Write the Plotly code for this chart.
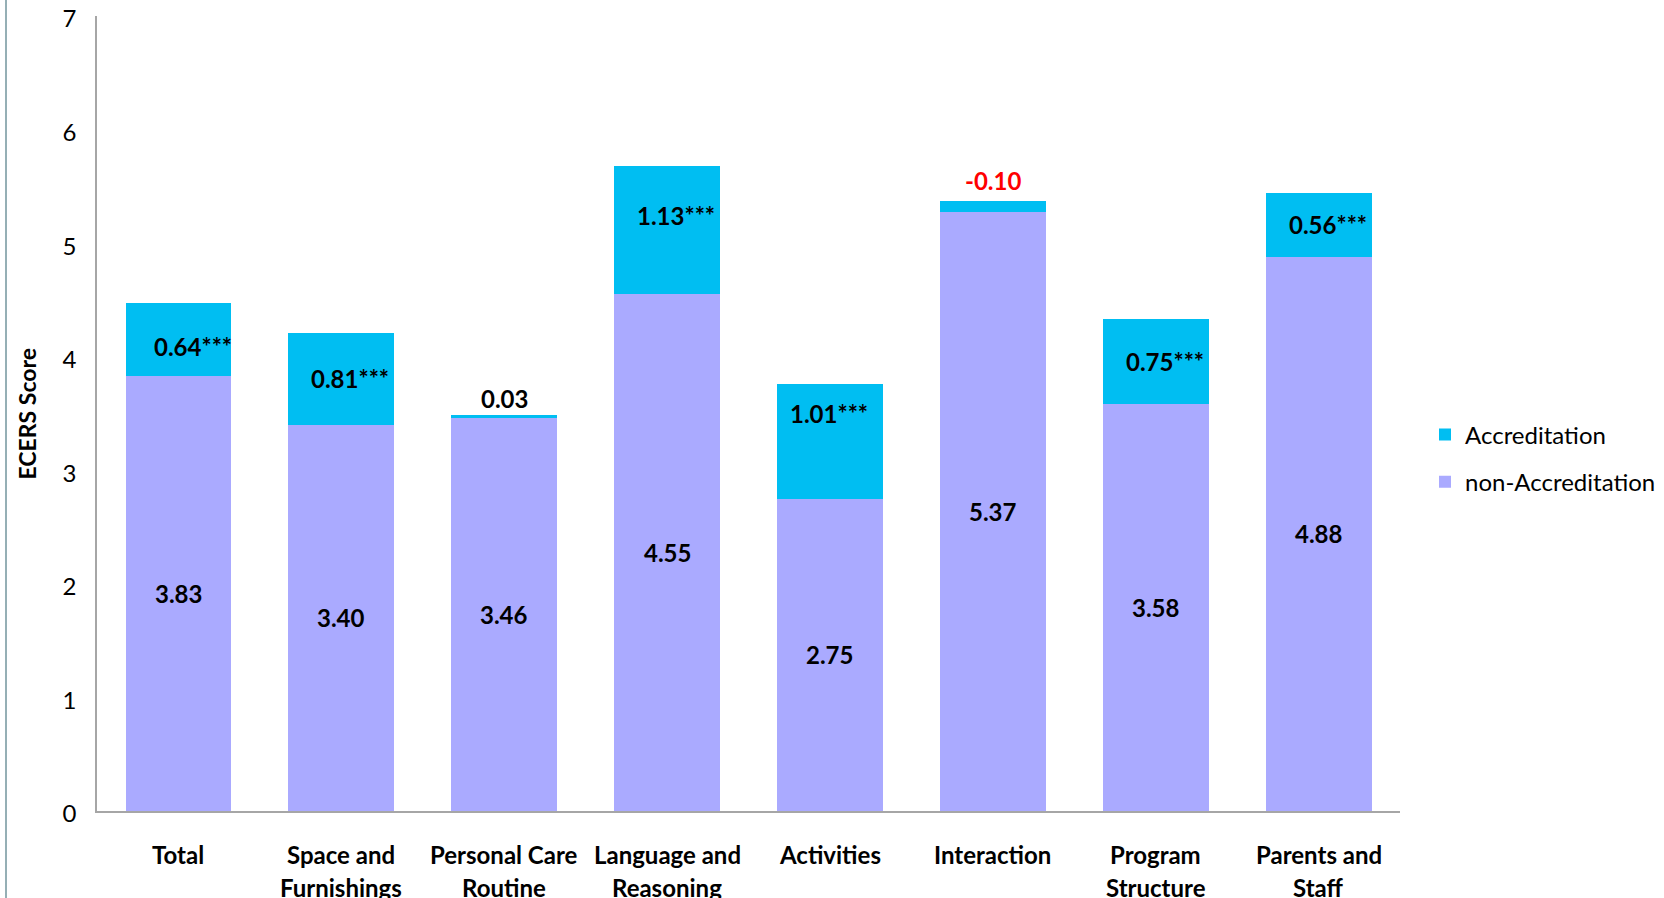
import plotly.graph_objects as go

# ECERS subscale scores
categories = ["Total", "Space and Furnishings", "Personal Care Routine",
              "Language and Reasoning", "Activities", "Interaction",
              "Program Structure", "Parents and Staff"]
label_line1 = ["Total", "Space and", "Personal Care", "Language and",
               "Activities", "Interaction", "Program", "Parents and"]
label_line2 = ["", "Furnishings", "Routine", "Reasoning",
               "", "", "Structure", "Staff"]
non_accreditation = [3.83, 3.40, 3.46, 4.55, 2.75, 5.37, 3.58, 4.88]
accreditation_diff = [0.64, 0.81, 0.03, 1.13, 1.01, -0.10, 0.75, 0.56]
significance = ["***", "***", "", "***", "***", "", "***", "***"]
y_ticks = [0, 1, 2, 3, 4, 5, 6, 7]

# small hand nudges (px) for the difference labels
diff_label_dx = [15, 9, 0, 9, -1, 0, 9, 9]
diff_label_dy = [-7, 0, 0, 15, 28, 0, 0, 0]

LAVENDER = "#AAAAFF"
CYAN = "#00BEF2"
FONT = "Lato"

W, H = 1664, 898
ML, MR, MT, MB = 97, 0, 16, 87
PLOT_RIGHT = 1400                      # right end of the category axis, px
paper_w = W - ML - MR
x_domain_end = (PLOT_RIGHT - ML) / paper_w


def px_to_paper_x(px):
    return (px - ML) / paper_w


# stacked segments: lower part is the smaller of the two scores,
# upper part spans the size of the difference
lower = [min(b, b + d) for b, d in zip(non_accreditation, accreditation_diff)]
upper = [abs(d) for d in accreditation_diff]

fig = go.Figure()
fig.add_trace(go.Bar(x=categories, y=lower, name="non-Accreditation",
                     legendgroup="non", legendrank=2,
                     marker=dict(color=LAVENDER, line=dict(width=0)),
                     hoverinfo="skip"))
fig.add_trace(go.Bar(x=categories, y=upper, name="Accreditation",
                     legendgroup="acc", legendrank=1,
                     marker=dict(color=CYAN, line=dict(width=0)),
                     hoverinfo="skip"))

annotations = []
for i, cat in enumerate(categories):
    # base score label, centred in the lower segment
    annotations.append(dict(
        x=cat, y=lower[i] / 2, xref="x", yref="y",
        text=f"<b>{non_accreditation[i]:.2f}</b>", showarrow=False,
        font=dict(family=FONT, size=24, color="black")))
    d = accreditation_diff[i]
    top = lower[i] + upper[i]
    if upper[i] >= 0.3:
        annotations.append(dict(
            x=cat, y=lower[i] + upper[i] / 2, xref="x", yref="y",
            text=f"<b>{d:.2f}{significance[i]}</b>", showarrow=False,
            xshift=diff_label_dx[i], yshift=diff_label_dy[i],
            font=dict(family=FONT, size=24, color="black")))
    else:
        annotations.append(dict(
            x=cat, y=top, xref="x", yref="y", yanchor="bottom",
            text=f"<b>{d:.2f}{significance[i]}</b>", showarrow=False,
            yshift=0 if d >= 0 else 4,
            font=dict(family=FONT, size=24,
                      color="black" if d >= 0 else "#FF0000")))
    # category labels under the axis, two lines
    annotations.append(dict(
        x=cat, y=0, xref="x", yref="paper", yanchor="middle",
        text=f"<b>{label_line1[i]}</b>", showarrow=False, yshift=-43,
        font=dict(family=FONT, size=24, color="black")))
    if label_line2[i]:
        annotations.append(dict(
            x=cat, y=0, xref="x", yref="paper", yanchor="middle",
            text=f"<b>{label_line2[i]}</b>", showarrow=False, yshift=-76,
            font=dict(family=FONT, size=24, color="black")))

annotations.append(dict(
    x=px_to_paper_x(26), y=0.5, xref="paper", yref="paper", textangle=-90,
    xanchor="center", yanchor="middle",
    text="<b>ECERS Score</b>", showarrow=False,
    font=dict(family=FONT, size=23, color="black")))

fig.update_layout(
    width=W, height=H,
    margin=dict(l=ML, r=MR, t=MT, b=MB),
    paper_bgcolor="white", plot_bgcolor="white",
    barmode="stack", bargap=0.35,
    font=dict(family=FONT, color="black"),
    showlegend=True,
    legend=dict(x=px_to_paper_x(1425), y=0.4436, xanchor="left",
                yanchor="middle",
                traceorder="grouped", tracegroupgap=13,
                font=dict(family=FONT, size=24),
                bgcolor="rgba(0,0,0,0)"),
    xaxis=dict(domain=[0, x_domain_end], showline=True,
               linecolor="#A6A6A6", linewidth=1.5,
               showticklabels=False, ticks="", showgrid=False,
               zeroline=False, automargin=False),
    yaxis=dict(range=[0, 7], tickvals=y_ticks, showline=True,
               linecolor="#A6A6A6", linewidth=1.5, ticks="",
               showgrid=False, zeroline=False, ticklabelstandoff=14,
               ticklabelshift=3, automargin=False,
               tickfont=dict(family=FONT, size=24, color="black")),
    annotations=annotations,
    shapes=[dict(type="line", xref="paper", yref="paper",
                 x0=px_to_paper_x(6), x1=px_to_paper_x(6),
                 y0=-0.12, y1=1.03,
                 line=dict(color="#95AFB5", width=2))],
)

fig.write_html("out.html")
